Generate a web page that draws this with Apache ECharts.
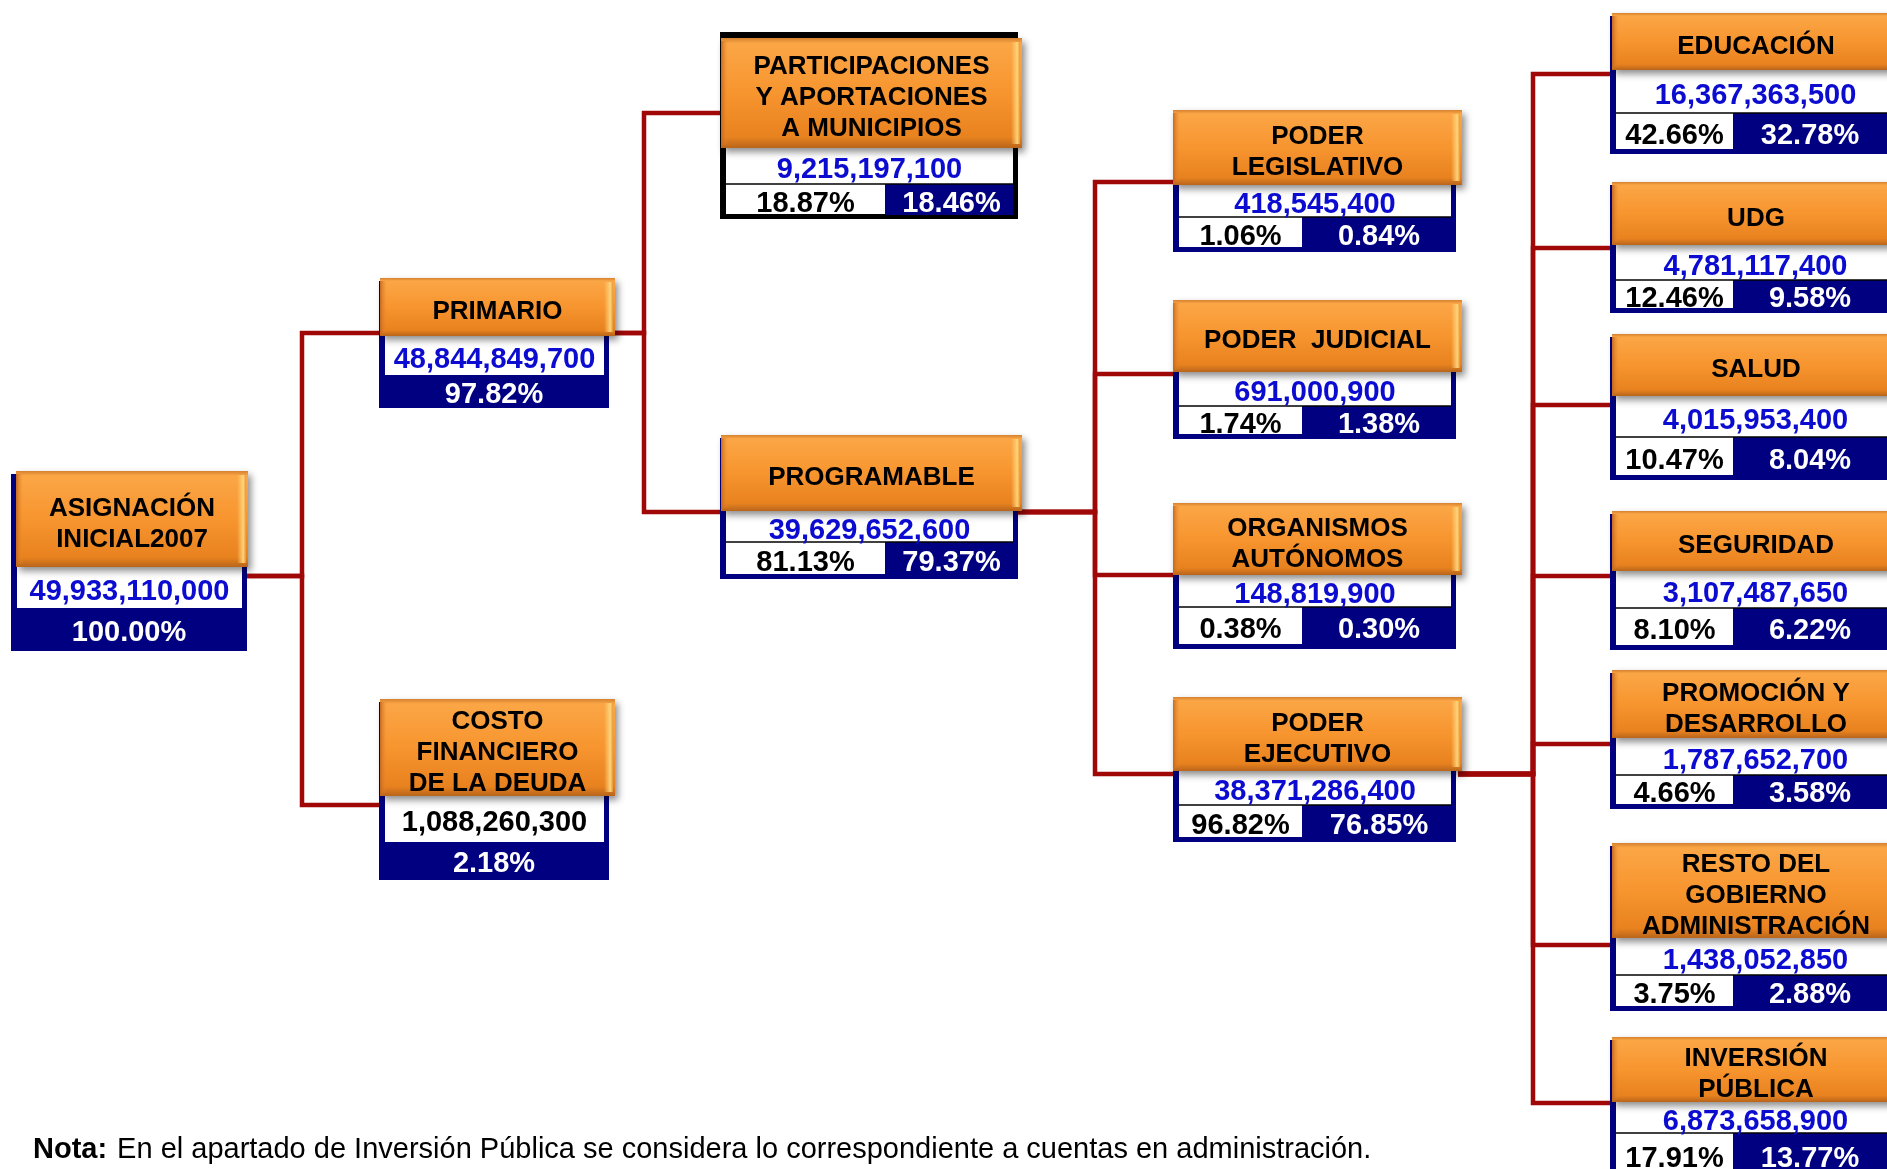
<!DOCTYPE html>
<html>
<head>
<meta charset="utf-8">
<title>Asignación Inicial 2007</title>
<script src="https://cdn.jsdelivr.net/npm/echarts@6/dist/echarts.min.js"></script>
<style>
html,body{margin:0;padding:0;background:#fff;}
#main{width:1887px;height:1169px;}
</style>
</head>
<body>
<div id="main"></div>
<script>
// datos del organigrama
var names = [
    'ASIGNACIÓN\nINICIAL2007', 'PRIMARIO', 'COSTO\nFINANCIERO\nDE LA DEUDA',
    'PARTICIPACIONES\nY APORTACIONES\nA MUNICIPIOS', 'PROGRAMABLE',
    'PODER\nLEGISLATIVO', 'PODER  JUDICIAL', 'ORGANISMOS\nAUTÓNOMOS', 'PODER\nEJECUTIVO',
    'EDUCACIÓN', 'UDG', 'SALUD', 'SEGURIDAD', 'PROMOCIÓN Y\nDESARROLLO',
    'RESTO DEL\nGOBIERNO\nADMINISTRACIÓN', 'INVERSIÓN\nPÚBLICA'
];
var amounts = [
    49933110000, 48844849700, 1088260300,
    9215197100, 39629652600,
    418545400, 691000900, 148819900, 38371286400,
    16367363500, 4781117400, 4015953400, 3107487650, 1787652700, 1438052850, 6873658900
];
// % respecto al nodo padre
var pctParent = [null, null, null, 18.87, 81.13, 1.06, 1.74, 0.38, 96.82,
    42.66, 12.46, 10.47, 8.10, 4.66, 3.75, 17.91];
// % respecto al total
var pctTotal = [100.00, 97.82, 2.18, 18.46, 79.37, 0.84, 1.38, 0.30, 76.85,
    32.78, 9.58, 8.04, 6.22, 3.58, 2.88, 13.77];
var parents = [-1, 0, 0, 1, 1, 4, 4, 4, 4, 8, 8, 8, 8, 8, 8, 8];

// layout (pixeles) -- columnas: [navyL, navyR, orangeL, orangeR, split]
var columns = [
    [11, 247, 16, 248, 0],
    [379, 609, 380, 615, 0],
    [720, 1018, 721, 1022, 885],
    [1173, 1456, 1173, 1462, 1302],
    [1610, 1900, 1612, 1900, 1733]
];
var nodeCol = [0, 1, 1, 2, 2, 3, 3, 3, 3, 4, 4, 4, 4, 4, 4, 4];
// [orangeTop, orangeBottom, valueBottom, boxBottom, linkY]
var nodeBox = [
    [471, 567, 608, 651, 576],
    [278, 336, 375, 408, 333],
    [699, 796, 842, 880, 805],
    [38, 148, 184, 219, 113],
    [435, 511, 542, 579, 512],
    [110, 185, 217, 252, 182],
    [300, 372, 406, 439, 374],
    [503, 575, 607, 649, 575],
    [697, 771, 805, 842, 774],
    [13, 70, 113, 154, 74],
    [182, 245, 280, 313, 248],
    [334, 396, 437, 480, 405],
    [511, 571, 608, 650, 576],
    [670, 738, 775, 809, 744],
    [843, 938, 975, 1011, 945],
    [1037, 1102, 1133, 1180, 1103]
];
var trunkX = {0: 302, 1: 644, 4: 1095, 8: 1533};

var NAVY = '#000080';
var RED = '#a00808';
var BLUE = '#0c0cd0';
var FONT = '"Liberation Sans", Arial, sans-serif';

function fmt(v){
    return v.toLocaleString('en-US');
}
function box(api, x1, y1, x2, y2){
    var a = api.coord([x1, y1]);
    var b = api.coord([x2, y2]);
    return {x: a[0], y: a[1], width: b[0] - a[0], height: b[1] - a[1]};
}

var nodeData = names.map(function(n, i){ return [i]; });
var linkData = [];
parents.forEach(function(p, i){
    if (p >= 0) linkData.push([p, i]);
});

function renderNode(params, api){
    var i = api.value(0);
    var c = columns[nodeCol[i]];
    var b = nodeBox[i];
    var nL = c[0], nR = c[1], oL = c[2], oR = c[3], split = c[4];
    var oT = b[0], oB = b[1], vB = b[2], bB = b[3];
    var framed = (i === 3);
    var kids = [];

    // marco (azul marino, o negro en participaciones)
    kids.push({type: 'rect', shape: framed ? box(api, nL, oT - 6, nR, bB) : box(api, nL, oT + 3, nR, bB),
        style: {fill: framed ? '#000' : NAVY}});
    // fila del monto
    kids.push({type: 'rect', shape: box(api, nL + 6, oB - 4, nR - 5, vB), style: {fill: '#fff'}});
    if (pctParent[i] != null) {
        kids.push({type: 'rect', shape: box(api, nL + 6, vB, split, bB - 5), style: {fill: '#fff'}});
        if (framed) {
            kids.push({type: 'rect', shape: box(api, split, vB, nR - 5, bB - 4), style: {fill: NAVY}});
        }
        var s1 = api.coord([nL + 6, vB]);
        var s2 = api.coord([nR - 5, vB]);
        kids.push({type: 'line', shape: {x1: s1[0], y1: s1[1], x2: s2[0], y2: s2[1]},
            style: {stroke: '#000', lineWidth: 1.5}});
    }

    // caja naranja
    kids.push({type: 'rect', shape: box(api, oL, oT, oR, oB),
        style: {
            fill: new echarts.graphic.LinearGradient(0, 0, 0, 1, [
                {offset: 0, color: '#d5812f'},
                {offset: 0.05, color: '#fba646'},
                {offset: 0.5, color: '#f7952f'},
                {offset: 0.9, color: '#e8821f'},
                {offset: 1, color: '#b9651b'}
            ]),
            shadowBlur: 7, shadowOffsetX: 3, shadowOffsetY: 4, shadowColor: 'rgba(0,0,0,0.45)'
        }});
    kids.push({type: 'rect', shape: box(api, oL, oT + 3, oL + 7, oB - 3),
        style: {fill: new echarts.graphic.LinearGradient(0, 0, 1, 0, [
            {offset: 0, color: 'rgba(190,100,30,0.9)'},
            {offset: 1, color: 'rgba(240,140,50,0)'}
        ])}});
    kids.push({type: 'rect', shape: box(api, oR - 11, oT + 4, oR - 2, oB - 4),
        style: {fill: new echarts.graphic.LinearGradient(0, 0, 1, 0, [
            {offset: 0, color: 'rgba(255,210,120,0)'},
            {offset: 0.7, color: 'rgba(255,215,125,0.95)'},
            {offset: 1, color: 'rgba(230,150,60,0.9)'}
        ])}});

    // textos
    var tc = api.coord([(oL + oR) / 2, (oT + oB) / 2 + 5]);
    kids.push({type: 'text', style: {text: names[i], x: tc[0], y: tc[1], fill: '#000',
        font: 'bold 26px ' + FONT, align: 'center', verticalAlign: 'middle', lineHeight: 31}});
    var vc = api.coord([(nL + 6 + nR - 5) / 2, (oB + vB) / 2 + 4]);
    kids.push({type: 'text', style: {text: fmt(amounts[i]), x: vc[0], y: vc[1],
        fill: i === 2 ? '#000' : BLUE,
        font: 'bold 29px ' + FONT, align: 'center', verticalAlign: 'middle'}});
    var py = (vB + bB) / 2 + 2;
    if (pctParent[i] != null) {
        var p1 = api.coord([(nL + 6 + split) / 2, py]);
        var p2 = api.coord([(split + Math.min(nR, 1887)) / 2, py]);
        kids.push({type: 'text', style: {text: pctParent[i].toFixed(2) + '%', x: p1[0], y: p1[1],
            fill: '#000', font: 'bold 29px ' + FONT, align: 'center', verticalAlign: 'middle'}});
        kids.push({type: 'text', style: {text: pctTotal[i].toFixed(2) + '%', x: p2[0], y: p2[1],
            fill: '#fff', font: 'bold 29px ' + FONT, align: 'center', verticalAlign: 'middle'}});
    } else {
        var p0 = api.coord([(nL + nR) / 2, py + 1]);
        kids.push({type: 'text', style: {text: pctTotal[i].toFixed(2) + '%', x: p0[0], y: p0[1],
            fill: '#fff', font: 'bold 29px ' + FONT, align: 'center', verticalAlign: 'middle'}});
    }
    return {type: 'group', children: kids};
}

function renderLink(params, api){
    var p = api.value(0), ch = api.value(1);
    var tx = trunkX[p];
    var pr = columns[nodeCol[p]][3] - 4;
    var cl = columns[nodeCol[ch]][2] + 10;
    var py = nodeBox[p][4], cy = nodeBox[ch][4];
    var pts = [[pr, py], [tx, py], [tx, cy], [cl, cy]].map(function(q){ return api.coord(q); });
    return {type: 'polyline', shape: {points: pts},
        style: {stroke: RED, lineWidth: 4.5, fill: null, lineJoin: 'miter'}};
}

var myChart = echarts.init(document.getElementById('main'));
var option = {
    animation: false,
    backgroundColor: '#fff',
    title: {
        left: 33,
        top: 1135,
        padding: 0,
        text: '{b|Nota:}  {n|En el apartado de Inversión Pública se considera lo correspondiente a cuentas en administración.}',
        textStyle: {
            rich: {
                b: {fontFamily: FONT, fontWeight: 'bold', fontSize: 29, color: '#000'},
                n: {fontFamily: FONT, fontWeight: 'normal', fontSize: 29, color: '#000'}
            }
        }
    },
    grid: {left: 0, right: 0, top: 0, bottom: 0},
    xAxis: {type: 'value', min: 0, max: 1887, show: false},
    yAxis: {type: 'value', min: 0, max: 1169, inverse: true, show: false},
    series: [
        {
            type: 'custom',
            name: 'enlaces',
            z: 1,
            renderItem: renderLink,
            data: linkData,
            silent: true
        },
        {
            type: 'custom',
            name: 'nodos',
            z: 2,
            renderItem: renderNode,
            data: nodeData
        }
    ]
};
myChart.setOption(option);
window.addEventListener('resize', function(){
    myChart.resize();
});
</script>
</body>
</html>
